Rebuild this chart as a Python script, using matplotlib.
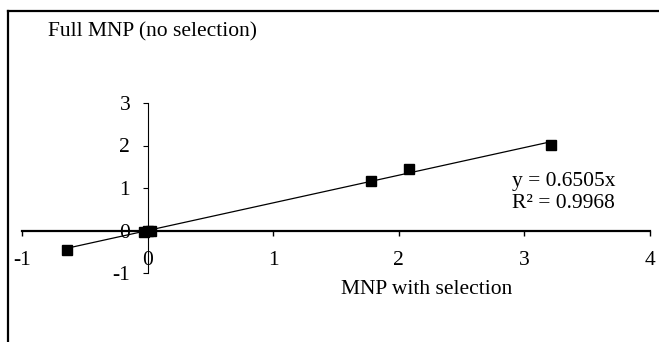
import numpy as np
import matplotlib
matplotlib.use("Agg")
import matplotlib.pyplot as plt
from matplotlib.lines import Line2D

# Data
x_vals = [-0.64, -0.03, 0.00, 0.03, 1.78, 2.08, 3.21]
y_vals = [-0.46, -0.04, -0.02, 0.00, 1.17, 1.44, 2.01]
slope = 0.6505
r2 = 0.9968
x_ticks = [-1, 0, 1, 2, 3, 4]
y_ticks = [-1, 0, 1, 2, 3]
x_label = "MNP with selection"
y_label = "Full MNP (no selection)"

plt.rcParams['font.family'] = ['Liberation Serif', 'DejaVu Serif']
FS = 15.5
W, H = 659, 342
fig = plt.figure(figsize=(W / 100, H / 100), dpi=100)
fig.patch.set_facecolor('white')

# chart-area border (only top and left edges visible)
bx, by = 8 / W, 1 - 10.5 / H
fig.add_artist(Line2D([bx, 1.0], [by, by], transform=fig.transFigure, color='black', lw=1.6))
fig.add_artist(Line2D([bx, bx], [0.0, by], transform=fig.transFigure, color='black', lw=1.6))

left, right = 22 / W, 650 / W
bottom, top = 1 - 273 / H, 1 - 103 / H
ax = fig.add_axes([left, bottom, right - left, top - bottom])
ax.set_xlim(-1, 4)
ax.set_ylim(-1, 3)
ax.patch.set_alpha(0)

for s in ['top', 'right']:
    ax.spines[s].set_visible(False)
ax.spines['left'].set_position(('data', 0))
ax.spines['bottom'].set_position(('data', 0))
ax.spines['left'].set_linewidth(0.8)
ax.spines['bottom'].set_linewidth(1.6)

ax.set_xticks(x_ticks)
ax.set_yticks(y_ticks)
ax.set_xticklabels([("-" + str(abs(v))) if v < 0 else str(v) for v in x_ticks])
ax.set_yticklabels([("-" + str(abs(v))) if v < 0 else str(v) for v in y_ticks])
ax.tick_params(axis='x', direction='out', length=3.5, width=1.0, pad=11, labelsize=FS)
ax.tick_params(axis='y', direction='out', length=3.5, width=0.8, pad=9, labelsize=FS)

xs = np.array(x_vals)
line_x = np.array([xs.min(), xs.max()])
ax.plot(line_x, slope * line_x, color='black', lw=0.9, zorder=2)
ax.plot(x_vals, y_vals, linestyle='none', marker='s', markersize=6.5,
        color='black', zorder=3, clip_on=False)

fig.text(48 / W, 1 - 32 / H, y_label, fontsize=FS, ha='left', va='center')
fig.text(427 / W, 1 - 289 / H, x_label, fontsize=FS, ha='center', va='center')
fig.text(512 / W, 1 - 181 / H, "y = %.4fx" % slope, fontsize=FS, ha='left', va='center')
fig.text(512 / W, 1 - 204 / H, "R² = %.4f" % r2, fontsize=FS, ha='left', va='center')

fig.savefig("out.png", dpi=100, facecolor='white')
